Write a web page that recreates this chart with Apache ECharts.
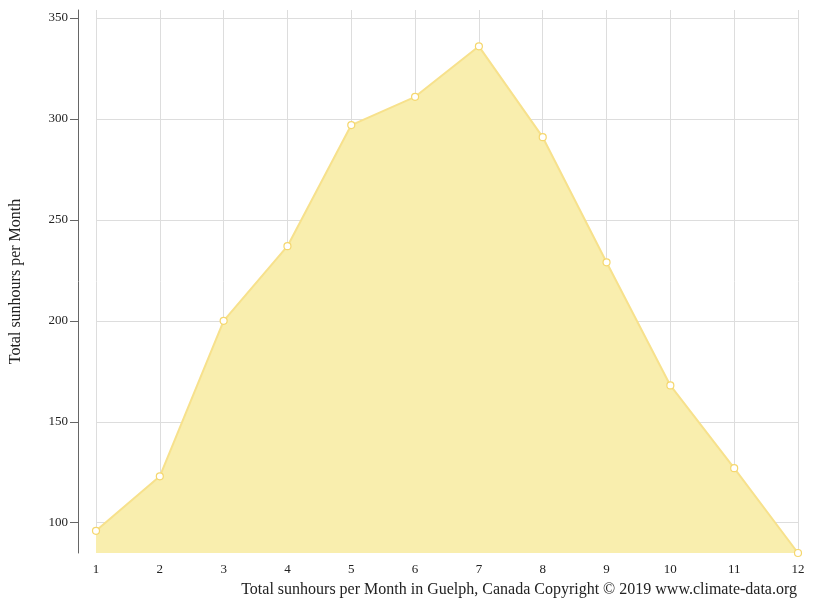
<!DOCTYPE html>
<html><head><meta charset="utf-8">
<script src="https://cdn.jsdelivr.net/npm/echarts@6/dist/echarts.min.js"></script>
<style>html,body{margin:0;padding:0;background:#fff}#c{width:815px;height:611px}</style>
</head><body><div id="c"></div>
<script>
var months=['1','2','3','4','5','6','7','8','9','10','11','12'];
var sunhours=[96,123,200,237,297,311,336,291,229,168,127,85];
var yTicks=[100,150,200,250,300,350];

var chart=echarts.init(document.getElementById('c'));
chart.setOption({
	animation:false,
	textStyle:{fontFamily:'Liberation Serif, serif'},
	grid:{left:89,right:17,top:10,bottom:58},
	title:{text:'Total sunhours per Month in Guelph, Canada Copyright © 2019 www.climate-data.org',
		right:13,bottom:8,
		textStyle:{fontFamily:'Liberation Serif, serif',fontWeight:'normal',fontSize:16,color:'#222'}},
	xAxis:{
		type:'category',boundaryGap:false,data:months,
		axisLine:{show:false},axisTick:{show:false},
		axisLabel:{color:'#222',fontSize:13,margin:10},
		splitLine:{show:true,lineStyle:{color:'#ddd'}}
	},
	yAxis:{
		type:'value',min:85,max:354,offset:18,
		name:'Total sunhours per Month',nameLocation:'middle',nameGap:54,
		nameTextStyle:{fontSize:16,color:'#222'},
		axisLine:{show:true,lineStyle:{color:'#666'}},
		axisTick:{show:true,length:8,customValues:yTicks,lineStyle:{color:'#666'}},
		axisLabel:{color:'#222',fontSize:13,customValues:yTicks,margin:10},
		splitLine:{show:true,lineStyle:{color:'#ddd'}}
	},
	series:[{
		type:'line',data:sunhours,
		symbol:'circle',symbolSize:7,
		itemStyle:{color:'#fff',borderColor:'#f5d76e',borderWidth:1.2},
		lineStyle:{color:'#f7e18c',width:2},
		areaStyle:{color:'#f9eeae',opacity:1}
	}]
});
</script>
</body></html>
